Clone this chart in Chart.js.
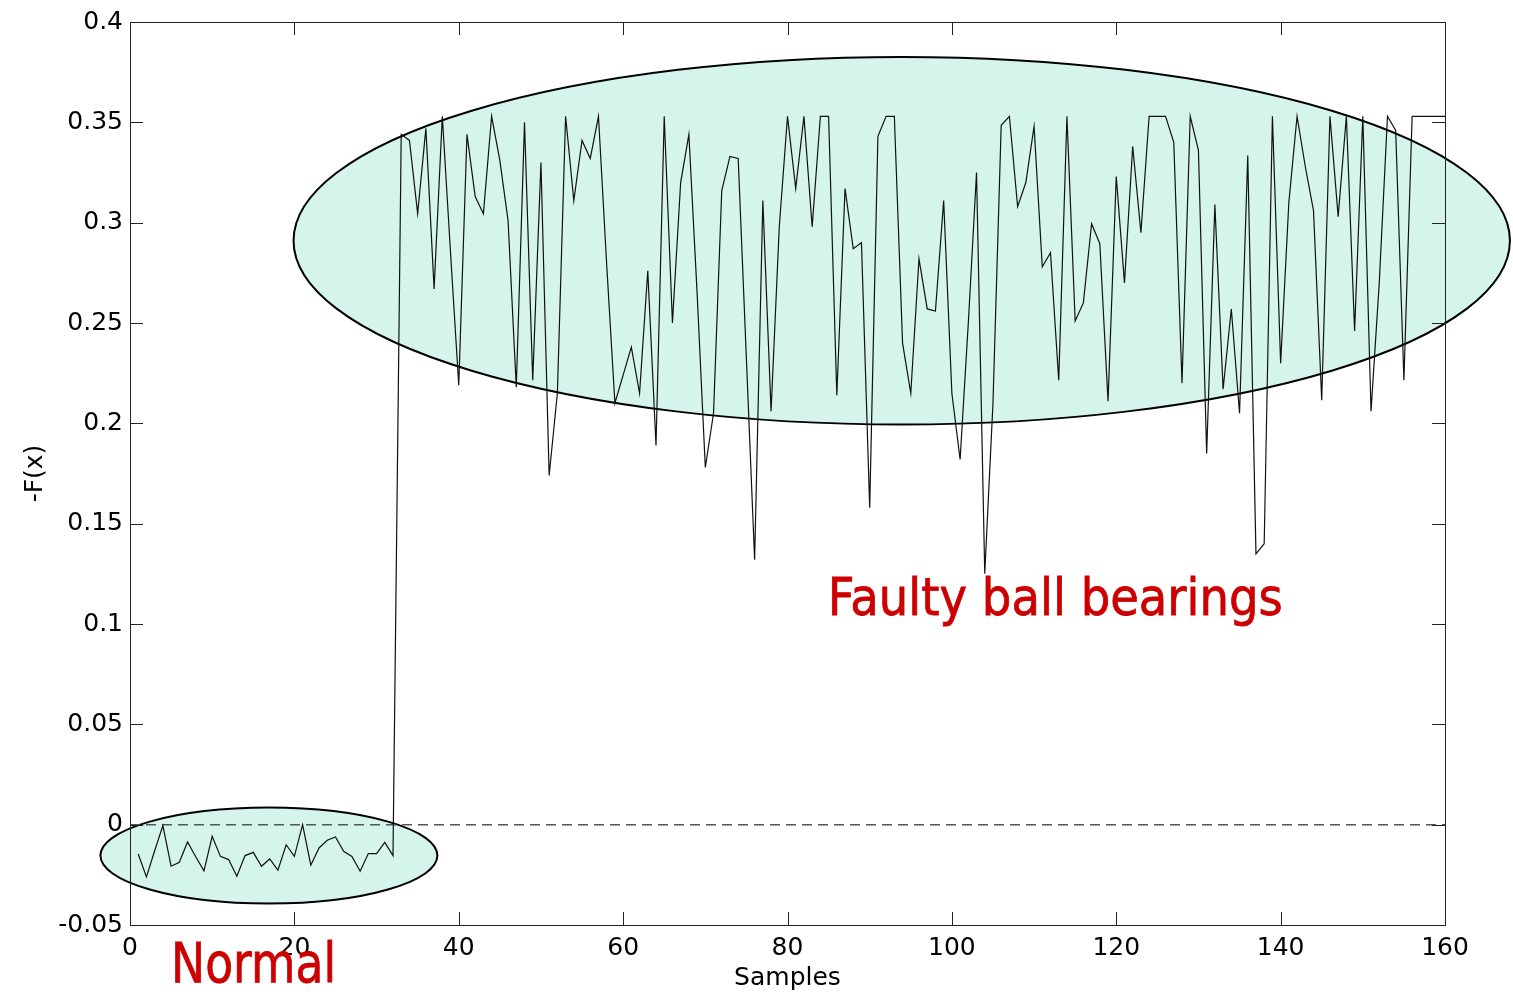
<!DOCTYPE html>
<html>
<head>
<meta charset="utf-8">
<script src="https://cdn.jsdelivr.net/npm/chart.js@4/dist/chart.umd.min.js"></script>
<style>
  html, body { margin: 0; padding: 0; background: #fff; }
  canvas { display: block; }
</style>
</head>
<body>
<canvas id="chart" width="1513" height="992"></canvas>
<script>
// -F(x) for samples 1..160
const fx = [
  -0.0146, -0.026, -0.013, -0.0005, -0.0207, -0.0187, -0.0086, -0.016, -0.023, -0.0058,
  -0.0158, -0.0174, -0.0257, -0.0154, -0.0138, -0.0207, -0.0171, -0.0227, -0.0100, -0.0158,
  0.0000, -0.0202, -0.0116, -0.0078, -0.0061, -0.0133, -0.0158, -0.0232, -0.0144, -0.0144,
  -0.0088, -0.0154, 0.344, 0.341, 0.3045, 0.347, 0.267, 0.353, 0.285, 0.219,
  0.344, 0.313, 0.3045, 0.353, 0.331, 0.301, 0.218, 0.350, 0.2215, 0.330,
  0.174, 0.215, 0.353, 0.311, 0.341, 0.332, 0.353, 0.279, 0.210, 0.224,
  0.238, 0.215, 0.276, 0.189, 0.353, 0.250, 0.320, 0.344, 0.265, 0.178,
  0.205, 0.316, 0.333, 0.332, 0.232, 0.132, 0.311, 0.206, 0.298, 0.353,
  0.317, 0.353, 0.298, 0.353, 0.353, 0.214, 0.317, 0.287, 0.290, 0.158,
  0.343, 0.353, 0.353, 0.240, 0.215, 0.282, 0.257, 0.256, 0.311, 0.215,
  0.182, 0.250, 0.325, 0.125, 0.210, 0.3485, 0.353, 0.308, 0.320, 0.348,
  0.278, 0.285, 0.2215, 0.353, 0.251, 0.260, 0.2995, 0.2895, 0.211, 0.323,
  0.270, 0.338, 0.295, 0.353, 0.353, 0.353, 0.340, 0.220, 0.353, 0.336,
  0.185, 0.309, 0.217, 0.257, 0.205, 0.3335, 0.135, 0.140, 0.353, 0.230,
  0.310, 0.353, 0.328, 0.306, 0.2115, 0.353, 0.303, 0.353, 0.246, 0.353,
  0.206, 0.270, 0.353, 0.346, 0.2215, 0.353, 0.353, 0.353, 0.353, 0.353
];
const xTicks = [0, 20, 40, 60, 80, 100, 120, 140, 160];
const yTicks = [-0.05, 0, 0.05, 0.1, 0.15, 0.2, 0.25, 0.3, 0.35, 0.4];
const threshold = 0;

// highlighted groups (data units) and their captions
const groups = [
  { name: "Faulty ball bearings", cx: 93.9, cy: 0.291, rx: 74.0, ry: 0.0916, tx: 84.9, ty: 0.1045, cap: 38, w: 455 },
  { name: "Normal", cx: 16.9, cy: -0.0154, rx: 20.5, ry: 0.0239, tx: 5.0, ty: -0.0786, cap: 40, w: 165 }
];

const fontFamily = '"DejaVu Sans", Arial, sans-serif';

const decor = {
  id: "decor",
  beforeDraw(chart) {
    const { ctx, scales: { x, y } } = chart;
    ctx.save();
    groups.forEach(g => {
      const cx = x.getPixelForValue(g.cx), cy = y.getPixelForValue(g.cy);
      const rx = x.getPixelForValue(g.cx + g.rx) - cx;
      const ry = cy - y.getPixelForValue(g.cy + g.ry);
      ctx.beginPath();
      ctx.ellipse(cx, cy, rx, ry, 0, 0, Math.PI * 2);
      ctx.fillStyle = "#d5f5ec";
      ctx.fill();
      ctx.lineWidth = 2;
      ctx.strokeStyle = "#000";
      ctx.stroke();
    });
    ctx.restore();
  },
  afterDatasetsDraw(chart) {
    const { ctx, chartArea: a, scales: { x, y } } = chart;
    ctx.save();
    ctx.strokeStyle = "#222";
    ctx.lineWidth = 1;
    ctx.strokeRect(a.left + 0.5, a.top + 0.5, a.right - a.left, a.bottom - a.top);
    ctx.beginPath();
    const tl = 13;
    xTicks.forEach(v => {
      const px = Math.round(x.getPixelForValue(v)) + 0.5;
      ctx.moveTo(px, a.bottom); ctx.lineTo(px, a.bottom - tl);
      ctx.moveTo(px, a.top); ctx.lineTo(px, a.top + tl);
    });
    yTicks.forEach(v => {
      const py = Math.round(y.getPixelForValue(v)) + 0.5;
      ctx.moveTo(a.left, py); ctx.lineTo(a.left + tl, py);
      ctx.moveTo(a.right, py); ctx.lineTo(a.right - tl, py);
    });
    ctx.stroke();
    ctx.restore();
  },
  afterDraw(chart) {
    const { ctx, chartArea: a, scales: { x, y } } = chart;
    ctx.save();
    // axis titles
    ctx.fillStyle = "#000";
    ctx.font = "25px " + fontFamily;
    ctx.textAlign = "center";
    ctx.textBaseline = "alphabetic";
    ctx.fillText("Samples", (a.left + a.right) / 2, 985);
    ctx.translate(42, (a.top + a.bottom) / 2);
    ctx.rotate(-Math.PI / 2);
    ctx.fillText("-F(x)", 0, 0);
    ctx.restore();

    // red captions
    groups.forEach(g => {
      const size = Math.round(g.cap / 0.729);
      ctx.save();
      ctx.font = size + "px " + fontFamily;
      const m = ctx.measureText(g.name).width;
      ctx.translate(x.getPixelForValue(g.tx), y.getPixelForValue(g.ty));
      ctx.scale(g.w / m, 1);
      ctx.fillStyle = "#cc0000";
      ctx.strokeStyle = "#cc0000";
      ctx.lineWidth = 0.8;
      ctx.textAlign = "left";
      ctx.textBaseline = "alphabetic";
      ctx.fillText(g.name, 0, 0);
      ctx.strokeText(g.name, 0, 0);
      ctx.restore();
    });
  }
};

new Chart(document.getElementById("chart"), {
  type: "line",
  data: {
    datasets: [
      {
        data: fx.map((v, i) => ({ x: i + 1, y: v })),
        borderColor: "#111",
        borderWidth: 1.2,
        pointRadius: 0,
        tension: 0
      },
      {
        data: [{ x: xTicks[0], y: threshold }, { x: xTicks[xTicks.length - 1], y: threshold }],
        borderColor: "#555",
        borderWidth: 1.5,
        borderDash: [10, 6],
        pointRadius: 0
      }
    ]
  },
  options: {
    responsive: false,
    animation: false,
    devicePixelRatio: 1,
    layout: { padding: { top: 20, right: 68, left: 0, bottom: 0 } },
    plugins: { legend: { display: false }, tooltip: { enabled: false } },
    scales: {
      x: {
        type: "linear",
        min: 0,
        max: 160,
        afterFit: s => { s.height = 67; },
        afterBuildTicks: s => { s.ticks = xTicks.map(v => ({ value: v })); },
        grid: { display: false, drawTicks: false },
        border: { display: false },
        ticks: { color: "#000", font: { family: fontFamily, size: 25 }, padding: 8, maxRotation: 0 }
      },
      y: {
        type: "linear",
        min: -0.05,
        max: 0.4,
        afterFit: s => { s.width = 130; },
        afterBuildTicks: s => { s.ticks = yTicks.map(v => ({ value: v })); },
        grid: { display: false, drawTicks: false },
        border: { display: false },
        ticks: {
          color: "#000",
          font: { family: fontFamily, size: 25 },
          padding: 7,
          callback: v => String(+v.toFixed(2))
        }
      }
    }
  },
  plugins: [decor]
});
</script>
</body>
</html>
